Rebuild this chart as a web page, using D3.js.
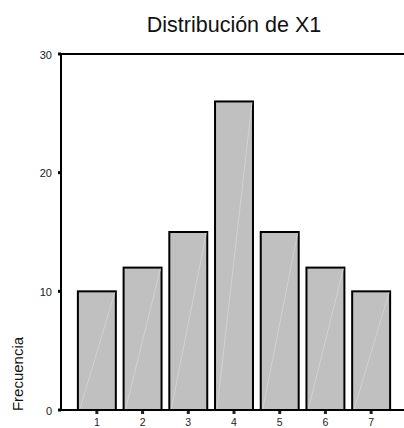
<!DOCTYPE html>
<html><head><meta charset="utf-8">
<script src="https://cdn.jsdelivr.net/npm/d3@7/dist/d3.min.js"></script>
<style>body{margin:0;background:#fff}svg{display:block}</style>
</head><body>
<svg id="c" width="404" height="428"></svg>
<script>
const categories = ["1","2","3","4","5","6","7"];
const counts = [10,12,15,26,15,12,10];
const yTicks = [0,10,20,30];
const title = "Distribución de X1";
const yLabel = "Frecuencia";

const svg = d3.select("#c");
const x = d3.scaleBand().domain(categories).range([74,394]).paddingInner(0.17).paddingOuter(0.085);
const y = d3.scaleLinear().domain([0,30]).range([410,54]);
const font = "'Liberation Sans', Arial, sans-serif";

svg.append("text").attr("x",234).attr("y",32).attr("text-anchor","middle")
  .attr("font-family",font).attr("font-size",21.5).attr("fill","#111").text(title);

// bars
const g = svg.append("g");
categories.forEach((c,i)=>{
  const x0 = x(c), w = x.bandwidth(), y0 = y(counts[i]), h = y(0)-y0;
  g.append("rect").attr("x",x0).attr("y",y0).attr("width",w).attr("height",h)
    .attr("fill","#c0c0c0").attr("stroke","#000").attr("stroke-width",2);
  g.append("line").attr("x1",x0+2).attr("y1",y(0)-1).attr("x2",x0+w-1).attr("y2",y0+1)
    .attr("stroke","#d6d6d6").attr("stroke-width",0.8);
});

// axes lines
svg.append("line").attr("x1",61).attr("x2",61).attr("y1",y(30)).attr("y2",y(0)+1).attr("stroke","#000").attr("stroke-width",2);
svg.append("line").attr("x1",60).attr("x2",404).attr("y1",y(30)).attr("y2",y(30)).attr("stroke","#000").attr("stroke-width",2);
svg.append("line").attr("x1",58).attr("x2",404).attr("y1",y(0)).attr("y2",y(0)).attr("stroke","#000").attr("stroke-width",2);

// y ticks
yTicks.forEach(t=>{
  svg.append("rect").attr("x",58).attr("y",y(t)-1.5).attr("width",3).attr("height",3).attr("fill","#000");
  svg.append("text").attr("x",52).attr("y",y(t)+4.5).attr("text-anchor","end")
    .attr("font-family",font).attr("font-size",11).attr("fill","#222").text(t);
});
// x ticks
categories.forEach(c=>{
  const cx = x(c)+x.bandwidth()/2;
  svg.append("rect").attr("x",cx-1.5).attr("y",y(0)+1).attr("width",3).attr("height",3).attr("fill","#222");
  svg.append("text").attr("x",cx).attr("y",425.5).attr("text-anchor","middle")
    .attr("font-family",font).attr("font-size",10.5).attr("fill","#222").text(c);
});

svg.append("text").attr("transform","translate(23,374) rotate(-90)").attr("text-anchor","middle")
  .attr("font-family",font).attr("font-size",15).attr("fill","#111").text(yLabel);
</script>
</body></html>
